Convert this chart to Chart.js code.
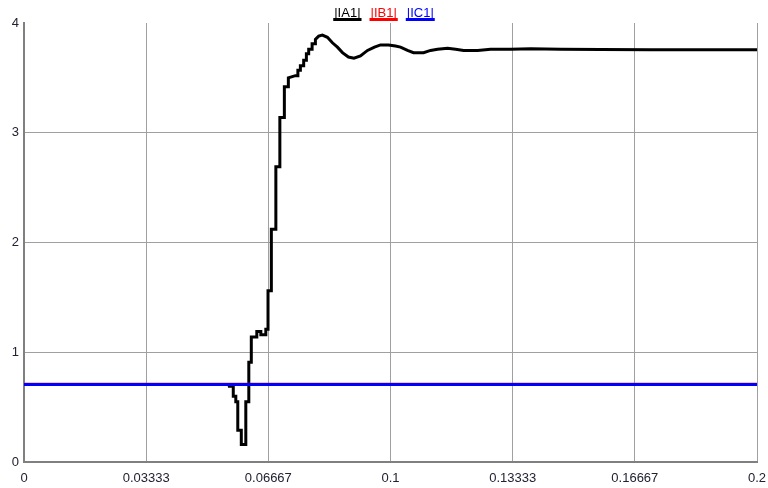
<!DOCTYPE html>
<html>
<head>
<meta charset="utf-8">
<script src="https://cdn.jsdelivr.net/npm/chart.js@4/dist/chart.umd.min.js"></script>
<style>
  html, body { margin: 0; padding: 0; background: #ffffff; }
  #wrap { width: 768px; height: 488px; position: relative; }
</style>
</head>
<body>
<div id="wrap"><canvas id="c" width="768" height="488"></canvas></div>
<script>
// Phase current magnitudes versus time (s)
const seriesNames = ['|IA1|', '|IB1|', '|IC1|'];
const seriesColors = ['#000000', '#ff0000', '#0000ff'];

// Phase A: steady load current, fault dip, then rise and settling
const timeA = [
  0, 0.05590, 0.05601, 0.05710, 0.05710, 0.05779, 0.05779, 0.05833, 0.05833,
  0.05929, 0.05929, 0.06052, 0.06052, 0.06134, 0.06134, 0.06202, 0.06202,
  0.06352, 0.06352, 0.06462, 0.06462, 0.06598, 0.06598, 0.06658, 0.06658,
  0.06749, 0.06749, 0.06872, 0.06872, 0.06981, 0.06981, 0.07104, 0.07104,
  0.07213, 0.07213, 0.07404, 0.07473, 0.07473, 0.07541, 0.07541, 0.07631,
  0.07631, 0.07705, 0.07705, 0.07768, 0.07768, 0.07861, 0.07861, 0.07951,
  0.07951, 0.08041, 0.08142, 0.08279, 0.08415, 0.08552, 0.08689, 0.08852,
  0.09003, 0.09180, 0.09372, 0.09563, 0.09727, 0.09945, 0.10137, 0.10273,
  0.10464, 0.10628, 0.10765, 0.10902, 0.11093, 0.11284, 0.11557, 0.11776,
  0.11995, 0.12377, 0.12732, 0.13279, 0.13825, 0.14645, 0.15738, 0.17104,
  0.18470, 0.2
];
const currentA = [
  0.707, 0.707, 0.69, 0.69, 0.60, 0.60, 0.55, 0.55, 0.29,
  0.29, 0.16, 0.16, 0.55, 0.55, 0.91, 0.91, 1.14,
  1.14, 1.19, 1.19, 1.16, 1.16, 1.21, 1.21, 1.56,
  1.56, 2.12, 2.12, 2.69, 2.69, 3.14, 3.14, 3.42,
  3.42, 3.50, 3.52, 3.52, 3.57, 3.57, 3.61, 3.61,
  3.66, 3.66, 3.72, 3.72, 3.76, 3.76, 3.81, 3.81,
  3.85, 3.88, 3.89, 3.87, 3.82, 3.78, 3.73, 3.69,
  3.68, 3.70, 3.75, 3.78, 3.80, 3.80, 3.79, 3.78,
  3.75, 3.73, 3.73, 3.73, 3.75, 3.76, 3.77, 3.76,
  3.75, 3.75, 3.76, 3.76, 3.765, 3.76, 3.758, 3.757,
  3.757, 3.757
];

// Phases B and C: unchanged load current
const timeBC = [0, 0.2];
const currentB = [0.707, 0.707];
const currentC = [0.707, 0.707];

// Axis ticks
const xTickLabels = ['0', '0.03333', '0.06667', '0.1', '0.13333', '0.16667', '0.2'];
const yTickLabels = ['0', '1', '2', '3', '4'];

const toPoints = (xs, ys) => xs.map((x, i) => ({ x: x, y: ys[i] }));
const fontFamily = '"Liberation Sans", Arial, sans-serif';

// Legend: coloured label text with a coloured bar underneath
const underlineLegend = {
  id: 'underlineLegend',
  afterDraw(chart) {
    const ctx = chart.ctx;
    ctx.save();
    ctx.font = '13px ' + fontFamily;
    ctx.textBaseline = 'alphabetic';
    const gap = 8;
    const widths = seriesNames.map(n => ctx.measureText(n).width + 2);
    const total = widths.reduce((a, b) => a + b, 0) + gap * (widths.length - 1);
    let x = 384 - total / 2;
    seriesNames.forEach((name, i) => {
      ctx.fillStyle = seriesColors[i];
      ctx.fillText(name, x + 1, 17);
      ctx.fillRect(x, 18, widths[i], 3);
      x += widths[i] + gap;
    });
    ctx.restore();
  }
};

new Chart(document.getElementById('c'), {
  type: 'line',
  data: {
    datasets: [
      { label: seriesNames[0], data: toPoints(timeA, currentA), borderColor: seriesColors[0],
        borderWidth: 3, pointRadius: 0, tension: 0, order: 2 },
      { label: seriesNames[1], data: toPoints(timeBC, currentB), borderColor: seriesColors[1],
        borderWidth: 3.2, pointRadius: 0, tension: 0, order: 1 },
      { label: seriesNames[2], data: toPoints(timeBC, currentC), borderColor: seriesColors[2],
        borderWidth: 3, pointRadius: 0, tension: 0, order: 0 }
    ]
  },
  options: {
    responsive: false,
    animation: false,
    layout: { padding: { top: 23, right: 11, left: 0, bottom: 0 } },
    plugins: { legend: { display: false }, tooltip: { enabled: false } },
    scales: {
      x: {
        type: 'linear',
        min: 0,
        max: 0.2,
        afterBuildTicks(axis) {
          axis.ticks = xTickLabels.map((_, i) => ({ value: i * 0.2 / (xTickLabels.length - 1) }));
        },
        afterFit(axis) {
          axis.height = 26;
          axis.paddingLeft = 0;
          axis.paddingRight = 0;
        },
        ticks: {
          autoSkip: false,
          maxRotation: 0,
          padding: 9,
          color: '#222233',
          font: { family: fontFamily, size: 13 },
          callback: (v, i) => xTickLabels[i]
        },
        grid: { color: '#a0a0a0', lineWidth: 1, drawTicks: false },
        border: { color: '#808080', width: 2 }
      },
      y: {
        type: 'linear',
        min: 0,
        max: 4,
        afterBuildTicks(axis) {
          axis.ticks = yTickLabels.map(l => ({ value: Number(l) }));
        },
        afterFit(axis) {
          axis.width = 24;
          axis.paddingTop = 0;
          axis.paddingBottom = 0;
        },
        ticks: {
          padding: 5,
          color: '#222233',
          font: { family: fontFamily, size: 13 },
          callback: (v, i) => yTickLabels[i]
        },
        grid: {
          color: ctx => (ctx.tick && ctx.tick.value === 4 ? 'rgba(0,0,0,0)' : '#a0a0a0'),
          lineWidth: 1,
          drawTicks: false
        },
        border: { color: '#808080', width: 2 }
      }
    }
  },
  plugins: [underlineLegend]
});
</script>
</body>
</html>
